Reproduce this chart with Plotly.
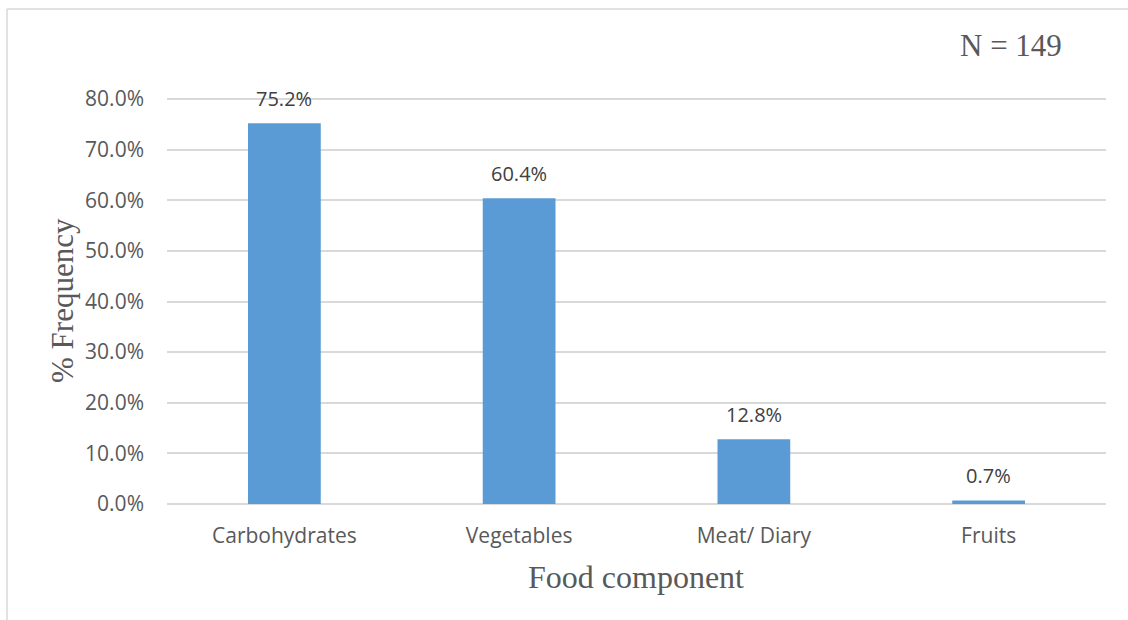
import plotly.graph_objects as go

categories = ["Carbohydrates", "Vegetables", "Meat/ Diary", "Fruits"]
values = [75.2, 60.4, 12.8, 0.7]
labels = ["75.2%", "60.4%", "12.8%", "0.7%"]
y_ticks = [0, 10, 20, 30, 40, 50, 60, 70, 80]
y_tick_text = ["0.0%", "10.0%", "20.0%", "30.0%", "40.0%", "50.0%", "60.0%", "70.0%", "80.0%"]

W, H = 1128, 620
L, R, T, B = 167, 22, 97, 116
pw, ph = W - L - R, H - T - B

def px(x):
    return (x - L) / pw

def py(y):
    return (H - B - y) / ph

fig = go.Figure()
fig.add_trace(go.Bar(x=categories, y=values, marker_color="#5b9bd5",
                     marker_line_width=0, hoverinfo="skip"))

for c, v, t in zip(categories, values, labels):
    fig.add_annotation(x=c, y=v, text=t, showarrow=False, xref="x", yref="y",
                       yanchor="middle", yshift=25,
                       font=dict(family="Open Sans", size=20, color="#404040"))

fig.add_annotation(x=px(1011), y=py(46), xref="paper", yref="paper", text="N = 149",
                   showarrow=False, xanchor="center", yanchor="middle",
                   font=dict(family="Liberation Serif", size=31, color="#595959"))
fig.add_annotation(x=px(636), y=py(577), xref="paper", yref="paper", text="Food component",
                   showarrow=False, xanchor="center", yanchor="middle",
                   font=dict(family="Liberation Serif", size=32, color="#595959"))
fig.add_annotation(x=px(62), y=py(301), xref="paper", yref="paper", text="% Frequency",
                   showarrow=False, xanchor="center", yanchor="middle", textangle=-90,
                   font=dict(family="Liberation Serif", size=31, color="#595959"))

# chart border
fig.add_shape(type="line", xref="paper", yref="paper", x0=px(7), x1=px(7), y0=py(9), y1=py(625),
              line=dict(color="#d9d9d9", width=1.5))
fig.add_shape(type="line", xref="paper", yref="paper", x0=px(7), x1=px(1130), y0=py(9), y1=py(9),
              line=dict(color="#d9d9d9", width=1.5))

fig.update_layout(
    width=W, height=H,
    margin=dict(l=L, r=R, t=T, b=B),
    paper_bgcolor="white", plot_bgcolor="white",
    bargap=0.69, showlegend=False,
    font=dict(family="Open Sans", size=21, color="#595959"),
)
fig.update_xaxes(showgrid=False, showline=False, ticks="", ticklabelstandoff=17,
                 tickfont=dict(family="Open Sans", size=21, color="#595959"))
fig.update_yaxes(range=[0, 80.4], tickvals=y_ticks, ticktext=y_tick_text,
                 showgrid=True, gridcolor="#d9d9d9", gridwidth=1.5,
                 zeroline=True, zerolinecolor="#d9d9d9", zerolinewidth=1.5,
                 showline=False, ticks="", ticklabelstandoff=22,
                 tickfont=dict(family="Open Sans", size=21, color="#595959"))

fig.write_html("out.html")
